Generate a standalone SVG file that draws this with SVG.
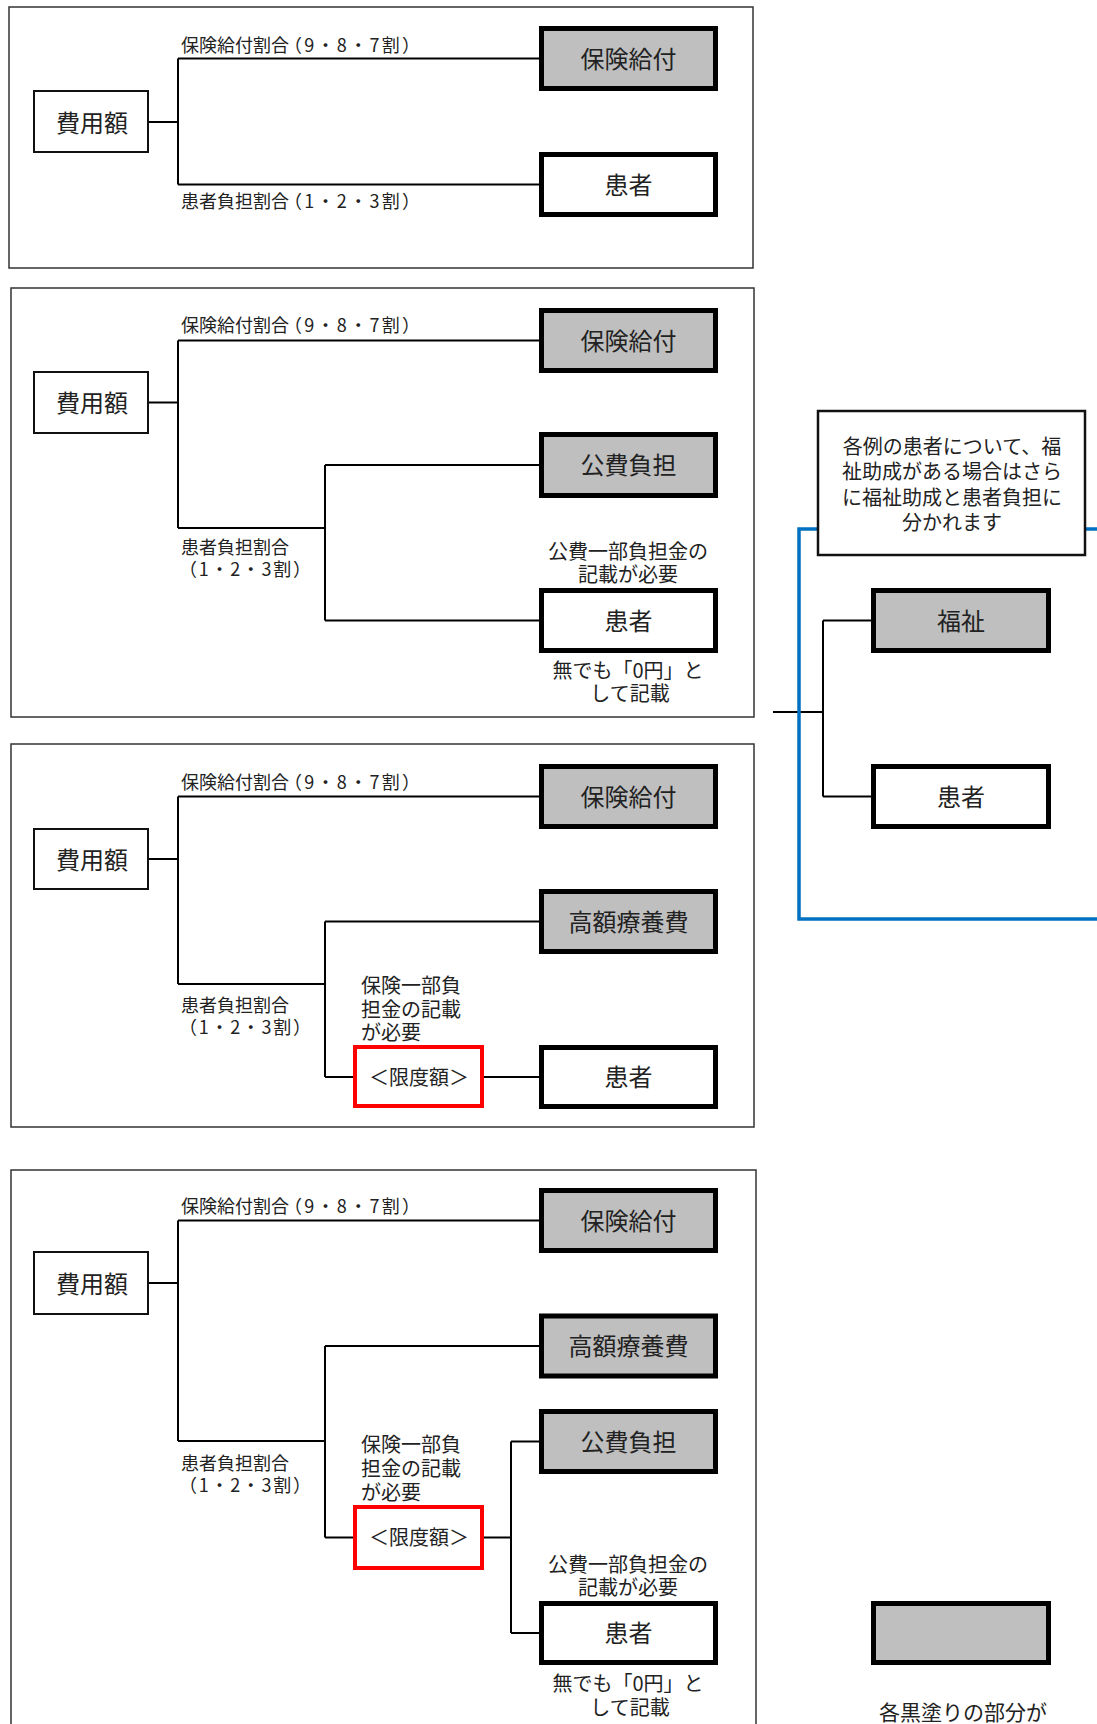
<svg xmlns="http://www.w3.org/2000/svg" width="1097" height="1724" viewBox="0 0 1097 1724">
<style>
text{font-family:"Noto Sans CJK JP","Noto Sans",sans-serif;fill:#222;dominant-baseline:central}
.panel{fill:#fff;stroke:#333;stroke-width:1.5}
.src{fill:#fff;stroke:#111;stroke-width:2}
.thick{stroke:#000;stroke-width:5}
.grey{fill:#bfbfbf}
.white{fill:#fff}
.red{fill:#fff;stroke:#f00;stroke-width:4}
.ln{fill:none;stroke:#000;stroke-width:2}
.big{font-size:24px;text-anchor:middle}
.lab{font-size:18px}
.note{font-size:20px}
.mid{text-anchor:middle}
</style>
<rect width="1097" height="1724" fill="#fff"/>
<g id="panels">
<rect class="panel" x="9" y="7" width="744" height="261"/>
<rect class="panel" x="11" y="288" width="743" height="429"/>
<rect class="panel" x="11" y="744" width="743" height="383"/>
<rect class="panel" x="11" y="1170" width="745" height="570"/>
</g>
<g id="connectors">
<path class="ln" d="M149 122H178M178 58.5V184.5M178 58.5H539M178 184.5H539"/>
<path class="ln" d="M149 402.5H178M178 340.5V528M178 340.5H539M178 528H325M325 465V620.5M325 465H539M325 620.5H539"/>
<path class="ln" d="M149 859H178M178 796.5V984M178 796.5H539M178 984H325M325 921.5V1077M325 921.5H539M325 1077H353M484 1077H539"/>
<path class="ln" d="M149 1283H178M178 1220.5V1441M178 1220.5H539M178 1441H325M325 1346V1537.5M325 1346H539M325 1537.5H353M484 1537.5H511M511 1441.5V1633M511 1441.5H539M511 1633H539"/>
<path class="ln" d="M773 712H823M823 620.5V796.5M823 620.5H871M823 796.5H871"/>
</g>
<g id="welfare-frame">
<rect x="799" y="529" width="400" height="390" fill="none" stroke="#0070c0" stroke-width="3.5"/>
</g>
<g id="callout">
<rect x="818" y="411" width="267" height="144" fill="#fff" stroke="#111" stroke-width="2.5"/>
<text class="note mid" x="952" y="445">各例の患者について、福<tspan x="952" dy="25.3">祉助成がある場合はさら</tspan><tspan x="952" dy="25.3">に福祉助成と患者負担に</tspan><tspan x="952" dy="25.3">分かれます</tspan></text>
</g>
<g id="p1">
<g id="p1-cost"><rect class="src" x="34" y="91" width="114" height="61"/><text class="big" x="92" y="121">費用額</text></g>
<g id="p1-ins"><rect class="thick grey" x="541.5" y="28.5" width="174" height="60"/><text class="big" x="628.5" y="57">保険給付</text></g>
<g id="p1-pat"><rect class="thick white" x="541.5" y="154.5" width="174" height="60"/><text class="big" x="628.5" y="183">患者</text></g>
<text class="lab" x="181" y="44">保険給付割合</text><text class="lab" x="284" y="44" textLength="136" lengthAdjust="spacing">（9・8・7割）</text>
<text class="lab" x="181" y="200">患者負担割合</text><text class="lab" x="284" y="200" textLength="136" lengthAdjust="spacing">（1・2・3割）</text>
</g>
<g id="p2">
<g id="p2-cost"><rect class="src" x="34" y="372" width="114" height="61"/><text class="big" x="92" y="401">費用額</text></g>
<g id="p2-ins"><rect class="thick grey" x="541.5" y="310.5" width="174" height="60"/><text class="big" x="628.5" y="339">保険給付</text></g>
<g id="p2-pub"><rect class="thick grey" x="541.5" y="434.5" width="174" height="61"/><text class="big" x="628.5" y="463">公費負担</text></g>
<g id="p2-pat"><rect class="thick white" x="541.5" y="590.5" width="174" height="60"/><text class="big" x="628.5" y="619">患者</text></g>
<text class="lab" x="181" y="324">保険給付割合</text><text class="lab" x="284" y="324" textLength="136" lengthAdjust="spacing">（9・8・7割）</text>
<text class="lab" x="181" y="546">患者負担割合<tspan x="179" dy="22" textLength="132" lengthAdjust="spacing">（1・2・3割）</tspan></text>
<text class="note mid" x="628" y="550">公費一部負担金の<tspan x="628" dy="23">記載が必要</tspan></text>
<text class="note mid" x="628" y="669">無でも「0円」と<tspan x="630" dy="23">して記載</tspan></text>
</g>
<g id="p3">
<g id="p3-cost"><rect class="src" x="34" y="829" width="114" height="60"/><text class="big" x="92" y="858">費用額</text></g>
<g id="p3-ins"><rect class="thick grey" x="541.5" y="766.5" width="174" height="60"/><text class="big" x="628.5" y="795">保険給付</text></g>
<g id="p3-high"><rect class="thick grey" x="541.5" y="891.5" width="174" height="60"/><text class="big" x="628.5" y="920">高額療養費</text></g>
<g id="p3-limit"><rect class="red" x="355" y="1047" width="127" height="59"/><text class="note mid" x="419" y="1076">＜限度額＞</text></g>
<g id="p3-pat"><rect class="thick white" x="541.5" y="1047.5" width="174" height="59"/><text class="big" x="628.5" y="1075">患者</text></g>
<text class="lab" x="181" y="781">保険給付割合</text><text class="lab" x="284" y="781" textLength="136" lengthAdjust="spacing">（9・8・7割）</text>
<text class="lab" x="181" y="1004">患者負担割合<tspan x="179" dy="22" textLength="132" lengthAdjust="spacing">（1・2・3割）</tspan></text>
<text class="note" x="361" y="984">保険一部負<tspan x="361" dy="23.5">担金の記載</tspan><tspan x="361" dy="23.5">が必要</tspan></text>
</g>
<g id="p4">
<g id="p4-cost"><rect class="src" x="34" y="1252" width="114" height="62"/><text class="big" x="92" y="1282">費用額</text></g>
<g id="p4-ins"><rect class="thick grey" x="541.5" y="1190.5" width="174" height="60"/><text class="big" x="628.5" y="1219">保険給付</text></g>
<g id="p4-high"><rect class="thick grey" x="541.5" y="1316" width="174" height="60"/><text class="big" x="628.5" y="1344">高額療養費</text></g>
<g id="p4-pub"><rect class="thick grey" x="541.5" y="1411.5" width="174" height="60"/><text class="big" x="628.5" y="1440">公費負担</text></g>
<g id="p4-limit"><rect class="red" x="355" y="1507" width="127" height="61"/><text class="note mid" x="419" y="1536.5">＜限度額＞</text></g>
<g id="p4-pat"><rect class="thick white" x="541.5" y="1603.5" width="174" height="59"/><text class="big" x="628.5" y="1631">患者</text></g>
<text class="lab" x="181" y="1205">保険給付割合</text><text class="lab" x="284" y="1205" textLength="136" lengthAdjust="spacing">（9・8・7割）</text>
<text class="lab" x="181" y="1462">患者負担割合<tspan x="179" dy="22" textLength="132" lengthAdjust="spacing">（1・2・3割）</tspan></text>
<text class="note" x="361" y="1443">保険一部負<tspan x="361" dy="24">担金の記載</tspan><tspan x="361" dy="24">が必要</tspan></text>
<text class="note mid" x="628" y="1563">公費一部負担金の<tspan x="628" dy="23">記載が必要</tspan></text>
<text class="note mid" x="628" y="1682">無でも「0円」と<tspan x="630" dy="24">して記載</tspan></text>
</g>
<g id="welfare">
<g id="w-fuku"><rect class="thick grey" x="873.5" y="590.5" width="175" height="60"/><text class="big" x="961" y="619">福祉</text></g>
<g id="w-pat"><rect class="thick white" x="873.5" y="766.5" width="175" height="60"/><text class="big" x="961" y="795">患者</text></g>
</g>
<g id="legend">
<rect class="thick grey" x="873.5" y="1603.5" width="175" height="59"/>
<text class="mid" x="963" y="1711" font-size="21">各黒塗りの部分が</text>
</g>
</svg>
